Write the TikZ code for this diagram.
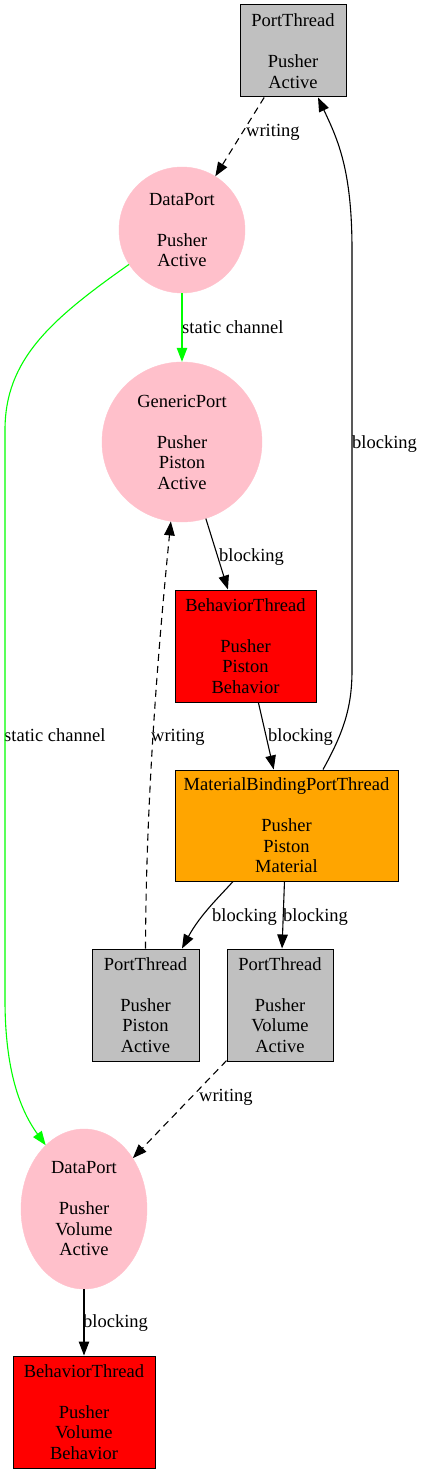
\documentclass[tikz,border=0pt]{standalone}
\usepackage{fontspec}
\setmainfont{Liberation Serif}
\usetikzlibrary{arrows.meta,shapes.geometric}
\definecolor{portpink}{RGB}{255,192,203}
\definecolor{portgrey}{RGB}{192,192,192}
\definecolor{matorange}{RGB}{255,165,0}
\definecolor{chgreen}{RGB}{0,255,0}
\begin{document}
\begin{tikzpicture}[x=1pt, y=-1pt,
    every node/.style={font=\fontsize{18.5}{20.5}\selectfont, inner sep=0pt, align=center},
    thr/.style={rectangle, draw, line width=1pt},
    port/.style={fill=portpink, draw=portpink},
    lbl/.style={anchor=west, text height=13pt, text depth=4pt},
    arr/.style={-{Triangle[length=14pt,width=10.5pt]}, line width=1.1pt},
    wr/.style={arr, dash pattern=on 7pt off 5pt},
    stat/.style={arr, draw=chgreen, fill=chgreen}]
    \useasboundingbox (0,0) rectangle (424,1474);

    % Threads and ports
    \node[thr, fill=portgrey, minimum width=106pt, minimum height=92pt] (pt1) at (293,51) {PortThread\\[20.5pt]Pusher\\Active};
    \node[port, circle, minimum size=126pt] (dp1) at (182,230) {DataPort\\[20.5pt]Pusher\\Active};
    \node[port, circle, minimum size=160pt] (gp) at (182,442) {GenericPort\\[20.5pt]Pusher\\Piston\\Active};
    \node[thr, fill=red, minimum width=141pt, minimum height=112pt] (bt1) at (245.5,646) {BehaviorThread\\[20.5pt]Pusher\\Piston\\Behavior};
    \node[thr, fill=matorange, minimum width=223pt, minimum height=111pt] (mbpt) at (286.5,825.5) {MaterialBindingPortThread\\[20.5pt]Pusher\\Piston\\Material};
    \node[thr, fill=portgrey, minimum width=107pt, minimum height=112pt] (pt2) at (145.5,1005) {PortThread\\[20.5pt]Pusher\\Piston\\Active};
    \node[thr, fill=portgrey, minimum width=106pt, minimum height=112pt] (pt3) at (280,1005) {PortThread\\[20.5pt]Pusher\\Volume\\Active};
    \node[port, ellipse, minimum width=126pt, minimum height=160pt] (dp2) at (84,1209) {DataPort\\[20.5pt]Pusher\\Volume\\Active};
    \node[thr, fill=red, minimum width=142pt, minimum height=112pt] (bt2) at (84,1412) {BehaviorThread\\[20.5pt]Pusher\\Volume\\Behavior};

    % Edge labels
    \node[lbl] (w1) at (246,132) {writing};
    \node[lbl] (s1) at (182,329) {static channel};
    \node[lbl] (b1) at (352,444) {blocking};
    \node[lbl] (b2) at (219,557) {blocking};
    \node[lbl] (s2) at (4,737) {static channel};
    \node[lbl] (w2) at (151,737) {writing};
    \node[lbl] (b3) at (268,737) {blocking};
    \node[lbl] (b4) at (212,917) {blocking};
    \node[lbl] (b5) at (283,917) {blocking};
    \node[lbl] (w3) at (199,1097) {writing};
    \node[lbl] (b6) at (83,1323) {blocking};

    % Edges
    \draw[wr] (pt1) -- (dp1);
    \draw[stat] (dp1) -- (gp);
    \draw[stat, fill=none] (dp1.213) .. controls (50,320) and (5,360) .. (5,430) -- (5,1000) .. controls (5,1070) and (20,1110) .. (dp2.121);
    \draw[arr] (gp) -- (bt1);
    \draw[arr] (bt1) -- (mbpt);
    \draw[arr] ([xshift=36.5pt]mbpt.north) .. controls (345,730) and (352,705) .. (352,670) -- (352,250) .. controls (352,170) and (338,140) .. ([xshift=25pt]pt1.south);
    \draw[wr] (pt2.north) .. controls (146,800) and (158,650) .. (gp.262);
    \draw[arr] ([xshift=-53.5pt]mbpt.south) .. controls (220,896) and (200,915) .. ([xshift=36.5pt]pt2.north);
    \draw[arr] (mbpt) -- (pt3);
    \draw[wr] (pt3) -- (dp2);
    \draw[arr] (dp2) -- (bt2);
\end{tikzpicture}
\end{document}
